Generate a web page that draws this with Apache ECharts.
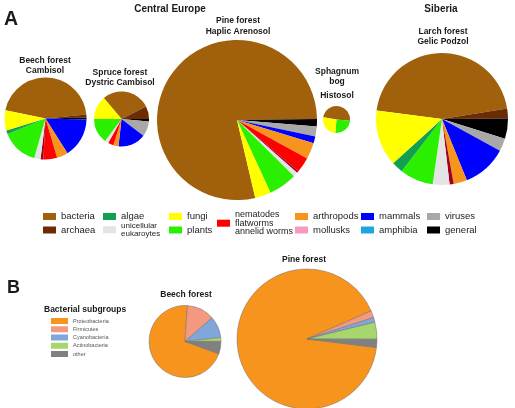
<!DOCTYPE html>
<html>
<head>
<meta charset="utf-8">
<script src="https://cdn.jsdelivr.net/npm/echarts@6/dist/echarts.min.js"></script>
<style>
  html, body { margin: 0; padding: 0; background: #fff; }
  #chart { width: 515px; height: 408px; }
</style>
</head>
<body>
<div id="chart"></div>
<script>
// taxa, in the clockwise order the slices are drawn (bacteria first)
const categories = ['bacteria', 'archaea', 'general', 'viruses', 'mammals', 'arthropods', 'nematodes',
  'annelid', 'unicellular', 'plants', 'algae', 'fungi', 'mollusks', 'amphibia']
const categoryColors = ['#a0600c', '#6b2c04', '#000000', '#a8a8a8', '#0000ff', '#f7941d', '#ff0000',
  '#a0001e', '#e4e4e4', '#2af000', '#10a050', '#ffff00', '#f59ac0', '#1ea6e0']

// share of sequences per taxon (%)
const beechValues = [45.2, 1.1, 0.8, 0, 15.6, 4.4, 5.4, 1.1, 2.5, 14.4, 1.4, 7.9, 0, 0]
const spruceValues = [28.6, 7.5, 1.4, 8.9, 16.4, 3.0, 3.3, 0, 2.2, 14.7, 0, 13.9, 0, 0]
const pineValues = [78.5, 0, 1.5, 2.0, 1.4, 3.3, 3.1, 0.4, 0.9, 5.75, 0, 3.2, 0, 0]
const sphagnumValues = [48.6, 0, 0, 0, 0, 0, 0, 0, 0, 25, 0, 26.4, 0, 0]
const larchValues = [45.4, 2.4, 5.0, 3.1, 10.9, 3.3, 0, 1.0, 4.1, 8.2, 2.8, 13.75, 0, 0]

// panel B
const subgroups = ['Proteobacteria', 'Firmicutes', 'Cyanobacteria', 'Actinobacteria', 'other']
const subgroupColors = ['#f7941d', '#f4987f', '#80a6da', '#a6d66c', '#808080']
const beechSubgroups = [70.5, 12.5, 9.7, 1.7, 5.6]
const pineSubgroups = [91.4, 1.6, 1.1, 3.9, 1.9]

const FONT = 'Liberation Sans, Arial, sans-serif'

const legendLabels = {
  bacteria: 'bacteria', archaea: 'archaea', algae: 'algae', unicellular: 'unicellular\neukaroytes',
  fungi: 'fungi', plants: 'plants', nematodes: 'nematodes\nflatworms\nannelid worms',
  arthropods: 'arthropods', mollusks: 'mollusks', mammals: 'mammals', amphibia: 'amphibia',
  viruses: 'viruses', general: 'general'
}

// pie placement: [values, centerX, centerY, radius, startAngle]
const piesA = [
  [beechValues, 45.5, 118.5, 41, 168.5],
  [spruceValues, 121.5, 119, 27.5, 130],
  [pineValues, 237, 120, 80, 283.2],
  [sphagnumValues, 336.5, 119.5, 13.5, 170],
  [larchValues, 442, 119, 66, 172.7]
]
const piesB = [
  [beechSubgroups, 185, 341.5, 36, -20],
  [pineSubgroups, 307, 339, 70, -7]
]

// legend slots: [name, swatch left, center y, font size, line height]
const legendSlots = [
  ['bacteria', 43, 216.5, 9.5, 12], ['archaea', 43, 230, 9.5, 12],
  ['algae', 103, 216.5, 9.5, 12], ['unicellular', 103, 229.5, 8, 7.5],
  ['fungi', 169, 216.5, 9.5, 12], ['plants', 169, 230, 9.5, 12],
  ['nematodes', 217, 223, 9, 8.6],
  ['arthropods', 295, 216.5, 9.5, 12], ['mollusks', 295, 230, 9.5, 12],
  ['mammals', 361, 216.5, 9.5, 12], ['amphibia', 361, 230, 9.5, 12],
  ['viruses', 427, 216.5, 9.5, 12], ['general', 427, 230, 9.5, 12]
]

// titles: [text, x, y, size, align]
const texts = [
  ['A', 4, 19.5, 19.5, 'left'],
  ['B', 7, 288.5, 18, 'left'],
  ['Central Europe', 170, 9.5, 10, 'center'],
  ['Siberia', 441, 9.5, 10, 'center'],
  ['Beech forest', 45, 61, 8.5, 'center'], ['Cambisol', 45, 71, 8.5, 'center'],
  ['Spruce forest', 120, 73, 8.5, 'center'], ['Dystric Cambisol', 120, 83, 8.5, 'center'],
  ['Pine forest', 238, 21, 8.5, 'center'], ['Haplic Arenosol', 238, 32, 8.5, 'center'],
  ['Sphagnum', 337, 72, 8.5, 'center'], ['bog', 337, 82, 8.5, 'center'],
  ['Histosol', 337, 96, 8.5, 'center'],
  ['Larch forest', 443, 32, 8.5, 'center'], ['Gelic Podzol', 443, 42, 8.5, 'center'],
  ['Beech forest', 186, 295, 8.5, 'center'],
  ['Pine forest', 304, 260, 8.5, 'center'],
  ['Bacterial subgroups', 44, 310, 8.5, 'left']
]

const series = []
piesA.forEach(([values, cx, cy, r, start]) => {
  series.push({
    type: 'pie',
    center: [cx, cy],
    radius: r,
    startAngle: start,
    clockwise: true,
    silent: true,
    label: { show: false },
    labelLine: { show: false },
    data: categories.map((c, i) => ({ name: c, value: values[i], itemStyle: { color: categoryColors[i] } }))
  })
})
piesB.forEach(([values, cx, cy, r, start]) => {
  series.push({
    type: 'pie',
    center: [cx, cy],
    radius: r,
    startAngle: start,
    clockwise: true,
    silent: true,
    label: { show: false },
    labelLine: { show: false },
    itemStyle: { borderColor: '#707070', borderWidth: 0.5 },
    data: subgroups.map((s, i) => ({ name: s, value: values[i], itemStyle: { color: subgroupColors[i] } }))
  })
})

const legends = legendSlots.map(([name, x, y, size, lh]) => {
  const lines = legendLabels[name].split('\n').length
  const h = Math.max(7, lines * lh)
  return {
    data: [name],
    left: x,
    top: y - h / 2,
    padding: 0,
    icon: 'rect',
    itemWidth: 13,
    itemHeight: 7,
    selectedMode: false,
    formatter: n => legendLabels[n],
    textStyle: { fontFamily: FONT, fontSize: size, lineHeight: lh, color: '#222' }
  }
})
legends.push({
  data: subgroups,
  orient: 'vertical',
  left: 51,
  top: 318,
  padding: 0,
  icon: 'rect',
  itemWidth: 17,
  itemHeight: 6,
  itemGap: 2.25,
  selectedMode: false,
  itemStyle: { borderWidth: 0 },
  textStyle: { fontFamily: FONT, fontSize: 5.5, lineHeight: 6, color: '#555' }
})

const graphics = texts.map(([t, x, y, size, align]) => ({
  type: 'text',
  x: x,
  y: y,
  style: {
    text: t,
    font: 'bold ' + size + 'px ' + FONT,
    fill: '#1a1a1a',
    textAlign: align,
    textVerticalAlign: 'middle'
  }
}))

const myChart = echarts.init(document.getElementById('chart'), null, { renderer: 'canvas' })
myChart.setOption({
  animation: false,
  backgroundColor: '#fff',
  legend: legends,
  graphic: graphics,
  series: series
})
</script>
</body>
</html>
